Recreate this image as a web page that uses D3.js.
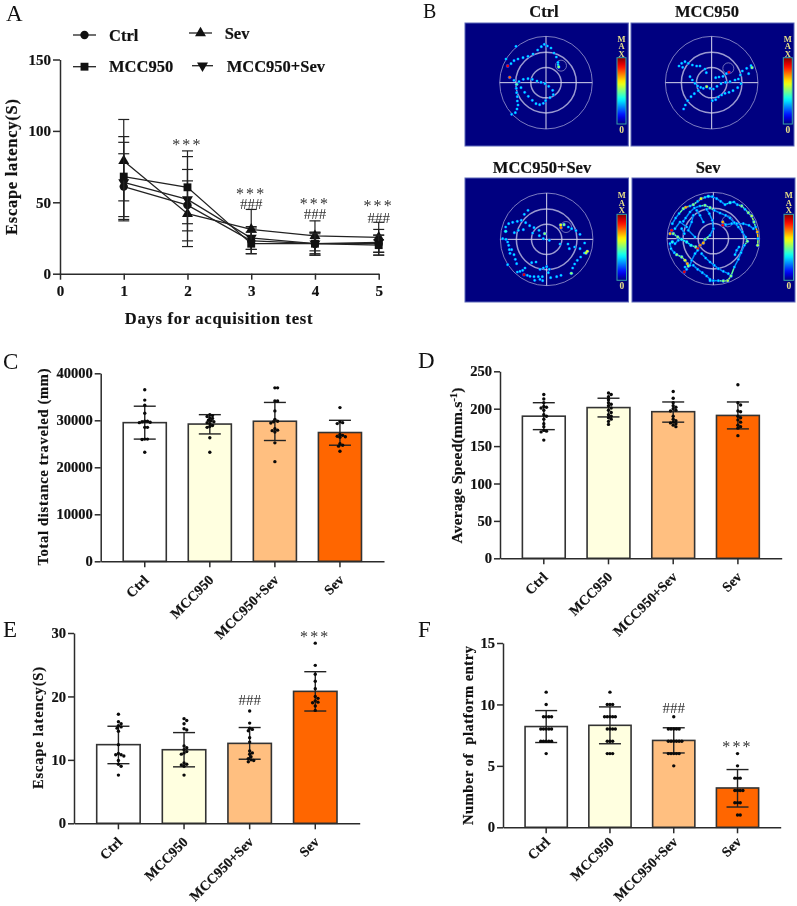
<!DOCTYPE html>
<html><head><meta charset="utf-8">
<script src="https://cdn.jsdelivr.net/npm/d3@7"></script>
<style>
html,body{margin:0;padding:0;background:#fff}
svg{display:block;filter:blur(.3px)}
text{font-family:"Liberation Serif","Times New Roman",serif;fill:#111}
.b{font-weight:bold;stroke:#111;stroke-width:.2px}
</style></head><body>
<svg id="c" width="797" height="906"></svg>
<script>
// ---------- shared categories ----------
const groups = ["Ctrl","MCC950","MCC950+Sev","Sev"];
const barColors = ["#ffffff","#ffffe0","#ffbf80","#ff6600"];

// ---------- panel A ----------
const days = [1,2,3,4,5];
const latencyTicksA = [0,50,100,150];
const dayTicks = [0,1,2,3,4,5];
const ctrlMean = [61,48,23,21,21];
const ctrlHi = [84,73,32,29,27];
const ctrlLo = [38,23,14,13,15];
const mccMean = [68,60.5,21,21,20];
const mccHi = [96,86,29,28,27];
const mccLo = [40,35,14,14,13];
const sevMean = [79,42,31,26.5,25.5];
const sevHi = [108,65,45,37,36];
const sevLo = [51,19,17,16,15];
const msMean = [64,52,25,21,22];
const msHi = [92,82,33,29,31];
const msLo = [37,30,17,13,13];
const starsA = [[2,86.6],[3,52.5],[4,45.3],[5,43.9]];
const hashA = [[3,45],[4,38.5],[5,35.5]];

// ---------- panel C ----------
const distMean = [29500,29200,29800,27400];
const distHi = [33000,31200,33800,30000];
const distLo = [26000,27100,25700,24700];
const distPts = [
 [36500,34300,33200,31500,29800,29800,29700,29600,29500,28500,28500,26000,26000,25900,23200],
 [31200,31000,30800,30500,30400,30000,29900,29700,29500,29300,28900,28700,28500,26300,23200],
 [36900,36900,34100,34100,32000,30200,29800,29700,29400,28200,27900,27800,27500,25200,21200],
 [32700,29700,29500,29300,27000,26800,26600,26500,26400,25000,24700,24500,23400]];
const distTicks = [0,10000,20000,30000,40000];

// ---------- panel D ----------
const speedMean = [190,201.5,196,191];
const speedHi = [208,214,209,209];
const speedLo = [172,189,182,173];
const speedPts = [
 [219,213,208,203,202,201,198,192,190,186,180,176,171,170,169,158],
 [221,219,216,212,208,206,204,201,198,195,192,190,188,186,183,179],
 [223,214,208,204,202,200,198,197,190,186,184,182,181,180,178,176],
 [232,208,205,197,196,190,188,185,182,178,176,174,164]];
const speedTicks = [0,50,100,150,200,250];

// ---------- panel E ----------
const escMean = [12.4,11.6,12.6,20.8];
const escHi = [15.3,14.3,15.1,23.9];
const escLo = [9.4,8.9,10.1,17.7];
const escPts = [
 [17.2,16,15.7,15.4,15.2,15,14.5,12.4,11,10.8,10.8,10.6,9.9,9.3,9,7.6],
 [16.5,16.2,15.7,14.9,14.7,12.2,11.9,11.6,11.3,11.1,10.9,9.5,9.3,9.2,9,7.6],
 [17.7,15.8,15,14.8,14.6,13.5,12.8,11.4,11.1,10.9,10.5,10.2,10,9.9,9.7],
 [28.4,24.9,23.5,22.4,21.2,20,19.7,19.3,19.1,19,18.5,17.8]];
const escTicks = [0,10,20,30];

// ---------- panel F ----------
const entryMean = [8.2,8.3,7.07,3.2];
const entryHi = [9.5,9.8,8.1,4.7];
const entryLo = [6.9,6.8,6.05,1.65];
const entryPts = [
 [11,10,9,9,9,9,8,8,8,8,8,7,7,7,7,7,6],
 [11,10,10,10,9,9,9,9,9,8,8,8,8,7,7,7,6,6,6],
 [9,8,8,8,8,8,7,7,7,7,7,7,6,6,6,6,6,5],
 [6,5,4,4,4,3,3,3,3,2,2,2,1,1]];
const entryTicks = [0,5,10,15];

// ---------- panel B: dots (arena px, intensity) ----------
const trackCtrl = [[78,64],[48,102],[53,123,.88],[63,116],[72,107],[84,102],[99,98],[114,94],[129,87],[143,75],[154,65],[163,58],[172,63],[183,69],[192,84],[199,96],[204,112],[204,119],[206,126,.5],[59,157,.78],[72,166],[80,178,.45],[87,170],[100,163],[114,161],[127,163],[141,168],[153,172],[165,176],[176,184],[188,196],[190,209],[180,218],[167,227],[160,235],[149,239],[138,236],[127,226],[115,214],[104,202],[93,188],[79,190],[80,203],[82,215],[82,228],[84,240],[81,252],[76,263],[65,268]];
const trackMcc = [[72,123],[80,115],[90,110],[83,127],[100,115],[112,120],[125,123],[135,123],[150,132],[154,143],[105,155],[112,165],[120,175],[128,183],[137,187],[155,185,.55],[165,190],[175,192],[186,184],[198,176],[212,172],[225,170],[240,165],[250,162],[256,150],[262,138],[275,130],[288,122],[291,128,.5],[281,146],[258,176],[248,188],[234,197],[222,202],[210,205],[200,210],[190,216],[182,224],[172,227],[145,190],[130,197],[118,206],[108,215],[98,227],[91,240],[86,252],[182,158],[192,156],[204,154],[214,146],[222,142,.88]];
const trackMs = [[114,85],[103,97],[94,115],[82,118],[68,121],[56,125],[47,135],[47,148,.4],[73,152],[85,145],[100,143],[107,122],[119,131],[132,137],[128,153],[147,145],[148,161],[164,155,.5],[160,170],[178,175],[212,129,.6],[213,137,.75],[222,128,.5],[235,135],[245,140],[258,146],[270,157],[284,183],[210,186],[234,186],[238,200],[254,195],[270,200],[283,213],[292,208,.6],[288,213,.55],[272,225],[262,235],[254,246],[248,258],[244,274,.5],[38,170],[48,172],[53,180],[56,190],[58,203],[65,203],[60,214],[72,218],[76,232],[80,245],[53,248],[125,242],[138,240],[150,262],[160,258],[170,254],[178,262],[175,272],[182,287],[200,284],[213,280],[105,258],[98,265],[90,268],[82,270],[102,278,.9],[112,280],[120,283],[132,284],[145,284],[157,284],[134,295],[158,296],[150,292]];
const trackSev = [[52,125],[62,108],[72,95],[85,80,.5],[92,76,.7],[105,72],[115,68,.5],[128,58],[138,50,.6],[150,46],[160,43,.4],[172,44],[185,50],[197,58],[210,68],[225,62,.4],[237,60],[247,68],[260,72,.5],[270,82],[280,92,.5],[290,102,.55],[297,120,.5],[302,135],[307,150,.7],[309,170],[308,190,.55],[85,118],[92,108],[105,90],[118,78],[135,72],[150,70,.5],[165,77,.5],[178,85],[195,93],[212,100],[225,108],[238,122],[250,135],[262,150],[272,165],[277,178,.5],[268,190],[258,212],[250,232],[238,255],[228,282,.5],[218,296,.55],[205,297,.5],[190,296],[175,296],[165,296],[50,145,.88],[45,155,.7],[55,155,.5],[68,165,.5],[80,172,.4],[95,180,.4],[108,190,.4],[122,195,.5],[128,200,.85],[135,190,.75],[145,183,.7],[150,172,.5],[165,160],[175,140],[172,115],[163,95],[155,82],[115,100],[110,120],[100,145],[120,165],[45,185],[48,200],[58,212],[52,180,.4],[65,218,.5],[80,225,.5],[90,235,.6],[97,245,.7],[100,252,.5],[88,270,.9],[95,262],[90,255],[128,205],[120,215],[110,235],[105,250],[140,215],[152,228],[165,240],[178,250],[190,260],[205,268],[220,275],[115,250],[128,262],[142,272],[155,282],[165,292],[203,130,.88],[203,120,.7],[212,128],[230,125],[245,125],[265,125],[282,130],[295,140],[240,218],[245,205],[252,195],[70,175],[60,185],[80,140],[88,155],[125,85],[135,100],[145,120],[95,135],[75,120],[60,140]];

const svg = d3.select("#c");
const ink = "#2b2b2b";

function label(x,y,t,size,opt={}){
  const s = svg.append("text").attr("x",x).attr("y",y).text(t).attr("font-size",size);
  if(opt.bold!==false) s.attr("class","b");
  if(opt.anchor) s.attr("text-anchor",opt.anchor);
  if(opt.ls) s.attr("letter-spacing",opt.ls);
  if(opt.fill) s.style("fill",opt.fill).style("stroke","none");
  return s;
}
function vlabel(x,yc,t,size,len){
  const s = svg.append("text").attr("class","b").attr("transform",`translate(${x},${yc}) rotate(-90)`)
    .attr("text-anchor","middle").attr("font-size",size).text(t);
  if(len) s.attr("textLength",len).attr("lengthAdjust","spacing");
  return s;
}
function styleAxis(g,size){
  g.selectAll("path,line").attr("stroke",ink).attr("stroke-width",1.5);
  g.selectAll("text").attr("class","b").attr("font-size",size).style("font-family",'"Liberation Serif",serif').attr("fill","#111");
}

// ---------- panel letters ----------
[["A",6,20.5,23],["B",423,18,20],["C",3,369,23],["D",418,368,23],["E",3,637,23],["F",418,637,23]]
  .forEach(d=>label(d[1],d[2],d[0],d[3],{bold:false}));

// ---------- A ----------
(function(){
  const x = d3.scaleLinear().domain([0,5]).range([60,378.7]);
  const y = d3.scaleLinear().domain([0,150]).range([273.7,59.5]);
  const series = [
    {name:"Ctrl",m:ctrlMean,hi:ctrlHi,lo:ctrlLo,sym:d3.symbolCircle,size:55,rot:0},
    {name:"MCC950+Sev",m:msMean,hi:msHi,lo:msLo,sym:d3.symbolTriangle,size:52,rot:180},
    {name:"Sev",m:sevMean,hi:sevHi,lo:sevLo,sym:d3.symbolTriangle,size:52,rot:0},
    {name:"MCC950",m:mccMean,hi:mccHi,lo:mccLo,sym:d3.symbolSquare,size:62,rot:0}];
  const line = d3.line().x((d,i)=>x(days[i])).y(d=>y(d));
  series.forEach(s=>{
    const g = svg.append("g");
    days.forEach((d,i)=>{
      g.append("line").attr("x1",x(d)).attr("x2",x(d)).attr("y1",y(s.hi[i])).attr("y2",y(s.lo[i])).attr("stroke","#222").attr("stroke-width",1.2);
      [s.hi[i],s.lo[i]].forEach(v=>g.append("line").attr("x1",x(d)-5.5).attr("x2",x(d)+5.5).attr("y1",y(v)).attr("y2",y(v)).attr("stroke","#222").attr("stroke-width",1.2));
    });
    g.append("path").attr("d",line(s.m)).attr("fill","none").attr("stroke","#222").attr("stroke-width",1.3);
    g.selectAll("path.m").data(s.m).join("path").attr("class","m")
      .attr("d",d3.symbol(s.sym,s.size))
      .attr("transform",(d,i)=>`translate(${x(days[i])},${y(d)}) rotate(${s.rot})`).attr("fill","#111");
  });
  const gx = svg.append("g").attr("transform","translate(0,273.7)")
    .call(d3.axisBottom(x).tickValues(dayTicks).tickFormat(d3.format("d")).tickSize(6).tickSizeOuter(0).tickPadding(6));
  styleAxis(gx,15);
  const gy = svg.append("g").attr("transform","translate(60,0)")
    .call(d3.axisLeft(y).tickValues(latencyTicksA).tickSize(7).tickSizeOuter(0).tickPadding(2));
  styleAxis(gy,15);
  starsA.forEach(d=>{
    const t = label(x(d[0]),y(d[1]),"***",16,{bold:false,anchor:"middle",ls:2.2,fill:"#333"});
    const h = hashA.find(q=>q[0]===d[0]);
    if(h) t.append("tspan").attr("x",x(h[0])).attr("y",y(h[1])).attr("font-size",15).attr("letter-spacing",0).text("###");
  });
  label(219,324,"Days for acquisition test",16.5,{anchor:"middle",ls:.75});
  vlabel(17,167,"Escape latency(S)",16.5,136);
  // legend
  [["Ctrl",73,96,35,109,40.7,d3.symbolCircle,55,0],["MCC950",73,96,66.7,109,72,d3.symbolSquare,62,0],
   ["Sev",189,212,33,224.7,39,d3.symbolTriangle,52,0],["MCC950+Sev",192,213,65.7,226.7,71.7,d3.symbolTriangle,52,180]]
  .forEach(l=>{
    svg.append("line").attr("x1",l[1]).attr("x2",l[2]).attr("y1",l[3]).attr("y2",l[3]).attr("stroke","#222").attr("stroke-width",1.3);
    svg.append("path").attr("d",d3.symbol(l[6],l[7])).attr("transform",`translate(${(l[1]+l[2])/2},${l[3]}) rotate(${l[8]})`).attr("fill","#111");
    label(l[4],l[5],l[0],16.5);
  });
})();

// ---------- B ----------
const jet = d3.scaleLinear().domain([0,.125,.375,.625,.875,1])
  .range(["#00007f","#0000ff","#00ffff","#ffff00","#ff0000","#7f0000"]).clamp(true);
(function(){
  const defs = svg.append("defs");
  const grad = defs.append("linearGradient").attr("id","jet").attr("x1",0).attr("x2",0).attr("y1",1).attr("y2",0);
  d3.range(0,1.001,.05).forEach(t=>grad.append("stop").attr("offset",t).attr("stop-color",jet(t)));
  const panels = [
   {t:"Ctrl",tx:544,ty:17,r:[465,23,163.3,123],c:[168,173],o:[490,25],bar:[617,57.7,9,66.3],track:trackCtrl,join:false},
   {t:"MCC950",tx:707,ty:17,r:[631,23,163,123],c:[170,173],o:[655,25],bar:[783.3,57.7,9,66.3],track:trackMcc,join:false},
   {t:"MCC950+Sev",tx:542,ty:173,r:[465,178,163.5,124],c:[170,172],o:[490,182],bar:[617,214.3,9.5,66],track:trackMs,join:false},
   {t:"Sev",tx:708,ty:173,r:[632,178,163,124],c:[175,170],o:[655,182],bar:[784,214.3,9.5,66],track:trackSev,join:true}];
  const plat = [[213,122],[220,130],[228,135],[218,118]];
  panels.forEach((p,i)=>{
    label(p.tx,p.ty,p.t,16.5,{anchor:"middle"});
    svg.append("rect").attr("x",p.r[0]).attr("y",p.r[1]).attr("width",p.r[2]).attr("height",p.r[3]).attr("fill","#000080").attr("stroke","#5a66b8").attr("stroke-width",1);
    const x = d3.scaleLinear().domain([0,420]).range([p.o[0],p.o[0]+140]);
    const y = d3.scaleLinear().domain([0,360]).range([p.o[1],p.o[1]+120]);
    const cx=x(p.c[0]), cy=y(p.c[1]);
    const g = svg.append("g");
    [[46.3,.8],[30.3,1.5],[15.2,1.5]].forEach(d=>g.append("circle").attr("cx",cx).attr("cy",cy).attr("r",d[0]).attr("fill","none").attr("stroke","#9a9ad0").attr("stroke-width",d[1]));
    g.append("line").attr("x1",cx-46.3).attr("x2",cx+46.3).attr("y1",cy).attr("y2",cy).attr("stroke","#d8d8ee").attr("stroke-width",1);
    g.append("line").attr("x1",cx).attr("x2",cx).attr("y1",cy-46.3).attr("y2",cy+46.3).attr("stroke","#d8d8ee").attr("stroke-width",1);
    g.append("circle").attr("cx",x(plat[i][0])).attr("cy",y(plat[i][1])).attr("r",5.5).attr("fill","none").attr("stroke","#9a9ad0").attr("stroke-width",.7);
    const pts = p.track;
    if(p.join){
      pts.forEach((d,k)=>{
        const n = pts[k+1];
        if(!n || Math.hypot(n[0]-d[0],n[1]-d[1])>32) return;
        g.append("line").attr("x1",x(d[0])).attr("y1",y(d[1])).attr("x2",x(n[0])).attr("y2",y(n[1]))
          .attr("stroke",jet(Math.max(d[2]||.3,n[2]||.3)-.03)).attr("stroke-width",1.5);
      });
    }
    g.selectAll("circle.h").data(pts).join("circle").attr("class","h").attr("cx",d=>x(d[0])).attr("cy",d=>y(d[1])).attr("r",d=>d[2]?1.9:1.6).attr("fill","#0040ff");
    g.selectAll("circle.d").data(pts).join("circle").attr("class","d").attr("cx",d=>x(d[0])).attr("cy",d=>y(d[1])).attr("r",d=>d[2]?1.4:1.05).attr("fill",d=>jet(d[2]||.36));
    svg.append("rect").attr("x",p.bar[0]).attr("y",p.bar[1]).attr("width",p.bar[2]).attr("height",p.bar[3]).attr("fill","url(#jet)").attr("stroke","#35a0a8").attr("stroke-width",1);
    const mx = p.bar[0]+p.bar[2]/2;
    label(mx,p.bar[1]-24,"MAX",8.5,{fill:"#e8e088",ls:-2.4}).attr("font-weight","bold")
      .style("writing-mode","vertical-rl").style("text-orientation","upright");
    label(mx,p.bar[1]+p.bar[3]+9,"0",9.5,{anchor:"middle",fill:"#e8e088"});
  });
})();

// ---------- bar panels ----------
function barPanel(o){
  const x = d3.scaleBand().domain(groups).range([o.x0,o.x1]).paddingInner(.338).paddingOuter(.346);
  const y = d3.scaleLinear().domain(o.domain).range([o.y0,o.y1]);
  const g = svg.append("g");
  g.selectAll("rect").data(groups).join("rect")
    .attr("x",d=>x(d)).attr("width",x.bandwidth())
    .attr("y",(d,i)=>y(o.mean[i])).attr("height",(d,i)=>y(0)-y(o.mean[i]))
    .attr("fill",(d,i)=>barColors[i]).attr("stroke","#333").attr("stroke-width",1.6);
  groups.forEach((gr,i)=>{
    const c = x(gr)+x.bandwidth()/2;
    g.append("line").attr("x1",c).attr("x2",c).attr("y1",y(o.hi[i])).attr("y2",y(o.lo[i])).attr("stroke","#222").attr("stroke-width",1.4);
    [o.hi[i],o.lo[i]].forEach(v=>g.append("line").attr("x1",c-11).attr("x2",c+11).attr("y1",y(v)).attr("y2",y(v)).attr("stroke","#222").attr("stroke-width",1.4));
    // side-by-side placement of dots that would overlap
    const placed=[];
    o.pts[i].forEach(v=>{
      const py=y(v); let k=0,px=0;
      const free=q=>placed.every(p=>Math.hypot(p[0]-q,p[1]-py)>=2.7);
      while(true){ px=(k%2?1:-1)*Math.ceil(k/2)*1.35; if(free(px))break; k++; }
      placed.push([px,py]);
      g.append("circle").attr("cx",c+px).attr("cy",py).attr("r",1.7).attr("fill","#0a0a0a");
    });
  });
  const gx = svg.append("g").attr("transform",`translate(0,${o.y0})`)
    .call(d3.axisBottom(x).tickSize(6).tickSizeOuter(0).tickPadding(7));
  styleAxis(gx,14);
  gx.selectAll("text").attr("text-anchor","end").attr("transform",`translate(-9,${o.labelShift}) rotate(-45)`).attr("dx","-.1em").attr("dy",".55em");
  const gy = svg.append("g").attr("transform",`translate(${o.x0},0)`)
    .call(d3.axisLeft(y).tickValues(o.ticks).tickFormat(d3.format("d")).tickSize(6).tickSizeOuter(0).tickPadding(2));
  styleAxis(gy,14.5);
  return {x,y};
}
const pC = barPanel({x0:100.7,x1:384,y0:561.3,y1:373.3,domain:[0,40000],mean:distMean,hi:distHi,lo:distLo,pts:distPts,ticks:distTicks,labelShift:4});
vlabel(48,467,"Total distance traveled (mm)",14.5,197);
const pD = barPanel({x0:500,x1:781.7,y0:558.3,y1:371.3,domain:[0,250],mean:speedMean,hi:speedHi,lo:speedLo,pts:speedPts,ticks:speedTicks,labelShift:4});
const spd = vlabel(462,465.5,"",15.5).attr("letter-spacing",.2);
spd.append("tspan").text("Average Speed(mm.s");
spd.append("tspan").text("-1").attr("font-size",10).attr("dy",-5);
spd.append("tspan").text(")").attr("dy",5);
const pE = barPanel({x0:74,x1:359.7,y0:823.3,y1:633,domain:[0,30],mean:escMean,hi:escHi,lo:escLo,pts:escPts,ticks:escTicks,labelShift:4});
vlabel(43,728,"Escape latency(S)",14.5,122);
const pF = barPanel({x0:503,x1:780.7,y0:827.3,y1:643,domain:[0,15],mean:entryMean,hi:entryHi,lo:entryLo,pts:entryPts,ticks:entryTicks,labelShift:0});
vlabel(473,735.5,"Number of  platform entry",14.5,179).style("white-space","pre");

function sig(p,gr,v,t,ls,sz){
  label(p.x(gr)+p.x.bandwidth()/2,p.y(v),t,sz,{bold:false,anchor:"middle",ls,fill:"#333"});
}
sig(pE,"Sev",28.6,"***",2.2,16);
sig(pE,"MCC950+Sev",18.6,"###",0,15);
sig(pF,"MCC950+Sev",9.3,"###",0,15);
sig(pF,"Sev",6.15,"***",2.2,16);
</script>
</body></html>
